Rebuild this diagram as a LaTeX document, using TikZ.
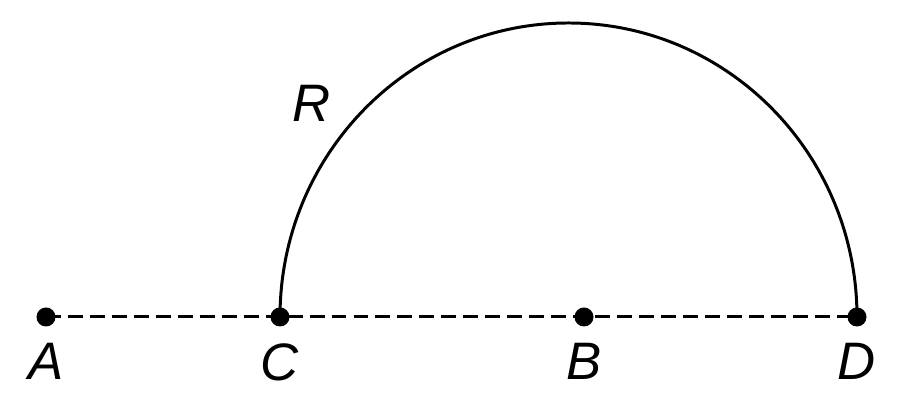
\documentclass[tikz,border=0pt]{standalone}
\usepackage{fontspec}
\setmainfont{Liberation Sans}
\usepackage{tikz}
\usetikzlibrary{positioning,backgrounds}

\begin{document}
\begin{tikzpicture}[
    dot/.style={circle, fill=black, inner sep=0pt, minimum size=0.38cm},
    lbl/.style={font=\fontsize{30}{36}\selectfont\itshape, inner sep=0pt},
    % Line styles
    axisline/.style={black, line width=1.7pt, dash pattern=on 8.5pt off 4pt},
    arcline/.style={black, line width=1.7pt},
    ]
    \useasboundingbox (0,0) rectangle (18,8.18);

    % Points on the line
    \node[dot] (A) at (0.92,1.84) {};
    \node[dot] (C) at (5.6,1.84) {};
    \node[dot] (B) at (11.68,1.84) {};
    \node[dot] (D) at (17.14,1.84) {};

    % Labels below the points
    \node[lbl, below=0.33cm of A] (lA) {A};
    \node[lbl, below=0.33cm of C] (lC) {C};
    \node[lbl, below=0.33cm of B] (lB) {B};
    \node[lbl, below=0.33cm of D] (lD) {D};

    % Dashed line and semicircle behind the dots
    \begin{pgfonlayer}{background}
        \draw[axisline] (A.center) -- (D.center);
        \draw[arcline] (C.center) arc[start angle=180, end angle=0, x radius=5.77, y radius=5.88];
    \end{pgfonlayer}

    % Radius label
    \node[lbl] (lR) at (6.24,6.12) {R};
\end{tikzpicture}
\end{document}
